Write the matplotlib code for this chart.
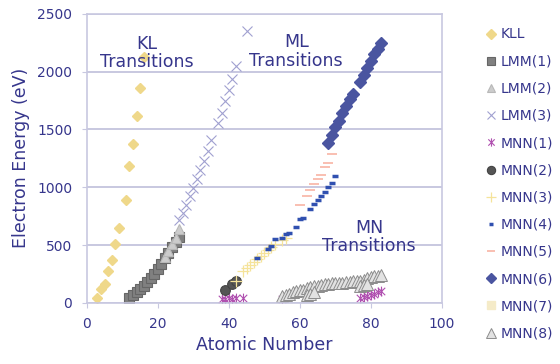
import numpy as np
import matplotlib.pyplot as plt
from matplotlib.path import Path

# ---- data ----
kll_z = [3, 4, 5, 6, 7, 8, 9, 11, 12, 13, 14, 15, 16]
kll_e = [43, 120, 165, 272, 370, 510, 650, 890, 1180, 1370, 1620, 1855, 2125]

lmm1_z = [12, 13, 14, 15, 16, 17, 18, 19, 20, 21, 22, 23, 24, 25, 26]
lmm1_e = [45, 68, 92, 120, 150, 180, 215, 250, 290, 335, 385, 430, 480, 530, 570]

lmm2_z = [22, 23, 24, 25, 26]
lmm2_e = [400, 450, 510, 560, 640]

lmm3_z = [26, 27, 28, 29, 30, 31, 32, 33, 34, 35, 37, 38, 39, 40, 41, 42, 45]
lmm3_e = [715, 775, 848, 920, 994, 1070, 1147, 1228, 1315, 1405, 1555, 1645, 1745, 1840, 1940, 2045, 2350]

mnn1_z = [38, 39, 40, 41, 42, 44, 55, 77, 78, 79, 80, 81, 82, 83]
mnn1_e = [35, 35, 40, 35, 40, 40, 35, 45, 50, 60, 70, 80, 90, 100]

mnn2_z = [39, 41, 42]
mnn2_e = [110, 165, 185]

mnn3_z = [42, 44, 45, 46, 47, 48, 49, 50, 51, 52, 53, 55, 56]
mnn3_e = [190, 273, 302, 330, 356, 376, 404, 430, 454, 483, 511, 540, 565]

mnn4_z = [48, 51, 52, 53, 55, 56, 57, 59, 60, 61, 63, 64, 65, 66, 67, 68, 69, 70]
mnn4_e = [387, 470, 493, 551, 560, 597, 608, 660, 724, 738, 813, 854, 891, 926, 963, 1001, 1035, 1099]

mnn5_z = [60, 62, 63, 64, 65, 66, 67, 68, 69]
mnn5_e = [848, 920, 977, 1027, 1070, 1107, 1171, 1214, 1286]

mnn6_z = [68, 69, 70, 71, 72, 73, 74, 75, 77, 78, 79, 80, 81, 82, 83]
mnn6_e = [1385, 1450, 1520, 1570, 1640, 1700, 1760, 1810, 1910, 1970, 2030, 2090, 2150, 2200, 2245]

mnn7_z = []
mnn7_e = []

mnn8_z = [55, 56, 57, 58, 59, 60, 61, 62, 63, 64, 65, 66, 67, 68, 69, 70, 71, 72,
          73, 74, 75, 76, 77, 78, 79, 80, 81, 82, 83, 62, 63, 64, 77, 78, 79]
mnn8_e = [60, 70, 80, 90, 100, 110, 115, 130, 140, 145, 150, 155, 160, 165, 170, 170,
          175, 175, 180, 180, 185, 185, 190, 200, 215, 225, 230, 235, 240, 70, 80, 90,
          150, 155, 160]

navy = "#36368c"
grid_c = "#c8c8e0"

# X with a vertical bar, like the spreadsheet "star" marker
star = Path([(-1, -1), (1, 1), (-1, 1), (1, -1), (0, -1.3), (0, 1.3)],
            [Path.MOVETO, Path.LINETO, Path.MOVETO, Path.LINETO, Path.MOVETO, Path.LINETO])

fig = plt.figure(figsize=(5.6, 3.64), dpi=100)
ax = fig.add_axes([0.155, 0.168, 0.634, 0.794])

ax.plot(kll_z, kll_e, ls="none", marker="D", ms=5.5, mfc="#efd88a", mec="#efd88a", label="KLL")
ax.plot(lmm1_z, lmm1_e, ls="none", marker="s", ms=6.5, mfc="#808080", mec="#666666", mew=0.8, label="LMM(1)")
ax.plot(lmm2_z, lmm2_e, ls="none", marker="^", ms=7.5, mfc="#cccccc", mec="#b8b8b8", mew=0.8, label="LMM(2)")
ax.plot(lmm3_z, lmm3_e, ls="none", marker="x", ms=7.5, mec="#a0a0d0", mew=0.8, label="LMM(3)")
ax.plot(mnn1_z, mnn1_e, ls="none", marker=star, ms=7, mec="#b050b0", mfc="none", mew=0.8, label="MNN(1)")
ax.plot(mnn2_z, mnn2_e, ls="none", marker="o", ms=7, mfc="#555555", mec="#444444", mew=0.8, label="MNN(2)")
ax.plot(mnn3_z, mnn3_e, ls="none", marker="+", ms=8, mec="#f5e39a", mew=0.9, label="MNN(3)")
ax.plot(mnn4_z, mnn4_e, ls="none", marker="_", ms=4.2, mec="#3050b0", mew=2.5, label="MNN(4)")
ax.plot(mnn5_z, mnn5_e, ls="none", marker="_", ms=6.5, mec="#f8b4a4", mew=1.2, label="MNN(5)")
ax.plot(mnn6_z, mnn6_e, ls="none", marker="D", ms=6, mfc="#4a55a0", mec="#4a55a0", label="MNN(6)")
ax.plot(mnn7_z, mnn7_e, ls="none", marker="s", ms=7, mfc="#f5ebc8", mec="#f5ebc8", label="MNN(7)")
ax.plot(mnn8_z, mnn8_e, ls="none", marker="^", ms=8, mfc="#e2e2e2", mec="#8c8c8c", mew=0.7, label="MNN(8)")

ax.text(17, 2160, "KL\nTransitions", ha="center", va="center", color=navy, fontsize=12.5, linespacing=1.05)
ax.text(59, 2175, "ML\nTransitions", ha="center", va="center", color=navy, fontsize=12.5, linespacing=1.05)
ax.text(79.5, 570, "MN\nTransitions", ha="center", va="center", color=navy, fontsize=12.5, linespacing=1.05)

ax.set_xlim(0, 100)
ax.set_ylim(0, 2500)
ax.set_xticks(np.arange(0, 101, 20))
ax.set_yticks(np.arange(0, 2501, 500))
ax.yaxis.grid(True, color=grid_c, lw=1.4)
ax.set_axisbelow(True)
for s in ax.spines.values():
    s.set_color(grid_c)
    s.set_linewidth(1.2)
ax.tick_params(colors=grid_c, labelcolor=navy, labelsize=10, length=3.5, pad=7)

ax.set_xlabel("Atomic Number", color=navy, fontsize=12.5, labelpad=3)
ax.set_ylabel("Electron Energy (eV)", color=navy, fontsize=12.5, labelpad=5)

leg = fig.legend(loc="upper left", bbox_to_anchor=(0.855, 0.94), frameon=False,
                 fontsize=10, labelspacing=0.95, handlelength=0.9, handletextpad=0.3,
                 borderaxespad=0, markerscale=0.85)
for t in leg.get_texts():
    t.set_color(navy)

fig.savefig("out.png", dpi=100)
